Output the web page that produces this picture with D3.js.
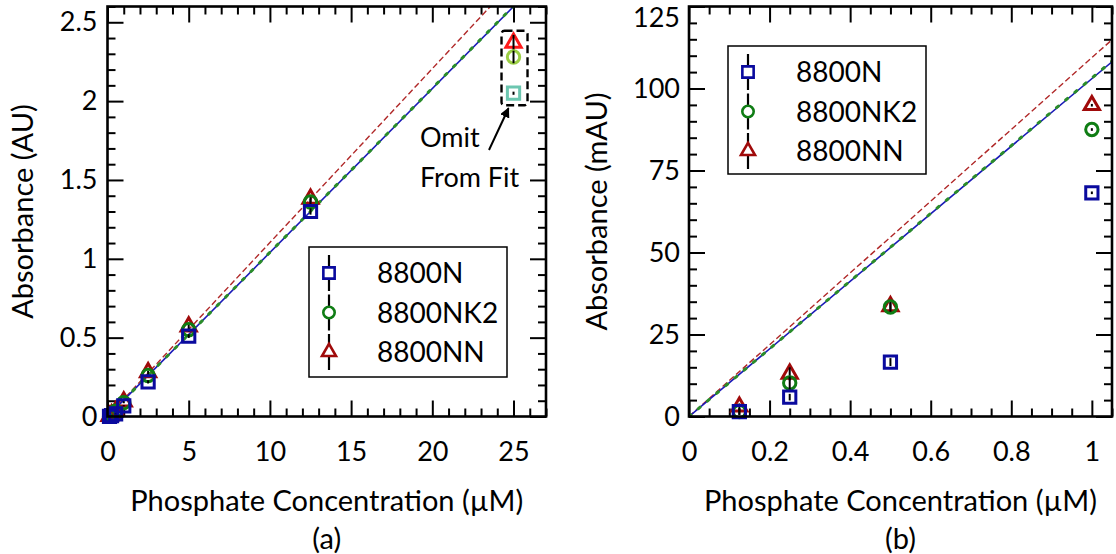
<!DOCTYPE html>
<html><head><meta charset="utf-8">
<script src="https://cdn.jsdelivr.net/npm/d3@7"></script>
<style>
body{margin:0;background:#fff}
svg{display:block}
text{font-family:Lato,"Open Sans",sans-serif;fill:#000}
</style>
</head><body>
<svg id="chart" width="1116" height="554"></svg>
<script>
// ---------- data ----------
const seriesNames = ["8800N", "8800NK2", "8800NN"];

// panel (a): absorbance in AU
const concA = [0.125, 0.25, 0.5, 1, 2.5, 5, 12.5];
const absA_N   = [0.0015, 0.0059, 0.0166, 0.068, 0.22, 0.51, 1.30];
const absA_NK2 = [0.0015, 0.0102, 0.0334, 0.088, 0.26, 0.55, 1.36];
const absA_NN  = [0.0030, 0.0130, 0.0336, 0.095, 0.28, 0.57, 1.38];
const errA_N   = [0.002, 0.002, 0.002, 0.004, 0.010, 0.012, 0.020];
const errA_NK2 = [0.002, 0.002, 0.002, 0.004, 0.010, 0.012, 0.020];
const errA_NN  = [0.002, 0.002, 0.002, 0.004, 0.010, 0.012, 0.020];
// omitted from fit (25 µM)
const omitConc = [25, 25, 25];
const omitAbs  = [2.05, 2.28, 2.37];
const omitErr  = [0.01, 0.04, 0.05];
// fitted slopes (AU per µM)
const fitSlopeA = [0.1040, 0.1041, 0.1103];

// panel (b): absorbance in mAU
const concB = [0.125, 0.25, 0.5, 1];
const absB_N   = [1.5, 5.9, 16.6, 68.2];
const absB_NK2 = [1.5, 10.2, 33.4, 87.5];
const absB_NN  = [3.0, 13.0, 33.6, 94.9];
const errB_N   = [1.0, 1.0, 1.2, 0.4];
const errB_NK2 = [1.0, 2.0, 1.5, 0.4];
const errB_NN  = [1.0, 2.0, 1.0, 0.4];
const fitSlopeB = [103.0, 103.2, 109.4];

// tick labels
const ticksAx = [0, 5, 10, 15, 20, 25];
const ticksAy = [0, 0.5, 1, 1.5, 2, 2.5];
const ticksBx = [0, 0.2, 0.4, 0.6, 0.8, 1];
const ticksBy = [0, 25, 50, 75, 100, 125];

// ---------- styles ----------
const markerColors = ["#0a0a9e", "#0f7d14", "#a00a0a"];
const omitColors   = ["#6cc6b0", "#9ccf45", "#ff1a1a"];
const lineColors   = ["#1a1ab8", "#2a8c2a", "#b02828"];
const lineDash     = [null, "2.5,9.5", "6,3"];
const lineWidth    = [1.6, 3, 1.4];
const symbols = [d3.symbolSquare, d3.symbolCircle, d3.symbolTriangle];
const symSize = [150, 120, 100];

const svg = d3.select("#chart");

function panel(opt) {
  const g = svg.append("g");
  const x = d3.scaleLinear().domain(opt.xDom).range(opt.xRange);
  const y = d3.scaleLinear().domain(opt.yDom).range(opt.yRange);
  const [x0, x1] = opt.xRange, [y0, y1] = opt.yRange;

  const cid = "clip" + opt.id;
  svg.append("clipPath").attr("id", cid).append("rect")
    .attr("x", x0).attr("y", y1).attr("width", x1 - x0).attr("height", y0 - y1);

  const majL = 16, minL = 8;
  function ax(gen, scale, vals, len, fmt, pad, tr) {
    const a = gen(scale).tickValues(vals).tickSizeInner(-len).tickSizeOuter(0).tickPadding(pad);
    a.tickFormat(fmt ? fmt : () => "");
    const s = g.append("g").attr("transform", tr).call(a);
    s.select(".domain").remove();
    s.selectAll("line").attr("stroke", "#000").attr("stroke-width", 2);
    s.selectAll("text").style("font-size", "27px").style("font-family", "Lato");
    return s;
  }
  const minorX = d3.range(opt.xDom[0], opt.xDom[1] + 1e-9, opt.xMinor).filter(v => !opt.xTicks.some(t => Math.abs(t - v) < 1e-9));
  const minorY = d3.range(opt.yDom[0], opt.yDom[1] + 1e-9, opt.yMinor).filter(v => !opt.yTicks.some(t => Math.abs(t - v) < 1e-9));
  const fx = d => String(d), fy = d => String(d);
  ax(d3.axisBottom, x, opt.xTicks, majL, fx, 25, `translate(0,${y0})`);
  ax(d3.axisBottom, x, minorX, minL, null, 0, `translate(0,${y0})`);
  ax(d3.axisTop, x, opt.xTicks, majL, null, 0, `translate(0,${y1})`);
  ax(d3.axisTop, x, minorX, minL, null, 0, `translate(0,${y1})`);
  const ly = ax(d3.axisLeft, y, opt.yTicks, majL, fy, opt.yPad, `translate(${x0},0)`);
  // keep a label sitting on the top edge inside the picture
  ly.selectAll("text").filter(d => y(d) < 14).attr("y", d => 18 - y(d));
  ax(d3.axisLeft, y, minorY, minL, null, 0, `translate(${x0},0)`);
  ax(d3.axisRight, y, opt.yTicks, majL, null, 0, `translate(${x1},0)`);
  ax(d3.axisRight, y, minorY, minL, null, 0, `translate(${x1},0)`);

  // fit lines (red dashed, blue solid, green dotted on top)
  const lg = g.append("g").attr("clip-path", `url(#${cid})`);
  [2, 0, 1].forEach(i => {
    const m = opt.slopes[i];
    const xe = opt.xDom[1];
    lg.append("line")
      .attr("x1", x(0)).attr("y1", y(0)).attr("x2", x(xe)).attr("y2", y(m * xe))
      .attr("stroke", lineColors[i]).attr("stroke-width", lineWidth[i])
      .attr("stroke-dasharray", lineDash[i])
      .attr("stroke-linecap", i === 1 ? "round" : "butt");
  });

  // markers (drawn NN, NK2, N)
  [2, 1, 0].forEach(i => {
    const vals = opt.vals[i], errs = opt.errs[i];
    const mg = g.append("g");
    opt.conc.forEach((c, k) => {
      mg.append("path")
        .attr("d", d3.symbol(symbols[i], symSize[i])())
        .attr("transform", `translate(${x(c)},${y(vals[k])})`)
        .attr("fill", "none").attr("stroke", markerColors[i]).attr("stroke-width", 3);
      mg.append("line")
        .attr("x1", x(c)).attr("x2", x(c))
        .attr("y1", y(vals[k] - errs[k])).attr("y2", y(vals[k] + errs[k]))
        .attr("stroke", "#000").attr("stroke-width", 2);
    });
  });

  // frame
  g.append("rect").attr("x", x0).attr("y", y1).attr("width", x1 - x0).attr("height", y0 - y1)
    .attr("fill", "none").attr("stroke", "#000").attr("stroke-width", 2.6);

  // titles
  const cx = (x0 + x1) / 2;
  g.append("text").attr("x", cx).attr("y", 511).attr("text-anchor", "middle")
    .style("font-size", "29px").text("Phosphate Concentration (µM)");
  g.append("text").attr("x", cx).attr("y", 549).attr("text-anchor", "middle")
    .style("font-size", "29px").text(opt.tag);
  g.append("text").attr("transform", `translate(${opt.yTitleX},${(y0 + y1) / 2}) rotate(-90)`)
    .attr("text-anchor", "middle").style("font-size", "29px").text(opt.yTitle);

  // legend
  const L = opt.legend;
  const leg = g.append("g");
  leg.append("rect").attr("x", L.x).attr("y", L.y).attr("width", L.w).attr("height", L.h)
    .attr("fill", "#fff").attr("stroke", "#000").attr("stroke-width", 1.5);
  seriesNames.forEach((name, i) => {
    const cy = L.y + 26 + i * 39.5, mx = L.x + 20;
    leg.append("line").attr("x1", mx).attr("x2", mx).attr("y1", cy - 18).attr("y2", cy + 18)
      .attr("stroke", "#000").attr("stroke-width", 2.2);
    leg.append("path").attr("d", d3.symbol(symbols[i], symSize[i] * 0.85)())
      .attr("transform", `translate(${mx},${cy})`)
      .attr("fill", "#fff").attr("stroke", markerColors[i]).attr("stroke-width", 2.6);
    leg.append("text").attr("x", L.x + 68).attr("y", cy + 10).style("font-size", "28px").text(name);
  });
  return { g, x, y };
}

const A = panel({
  id: "a", xDom: [0, 27], yDom: [0, 2.6], xRange: [107.5, 546], yRange: [416.5, 6.5],
  xTicks: ticksAx, yTicks: ticksAy, xMinor: 1, yMinor: 0.1, yPad: 10,
  conc: concA, vals: [absA_N, absA_NK2, absA_NN], errs: [errA_N, errA_NK2, errA_NN],
  slopes: fitSlopeA, tag: "(a)", yTitle: "Absorbance (AU)", yTitleX: 33,
  legend: { x: 309, y: 247, w: 198, h: 130 }
});
const B = panel({
  id: "b", xDom: [0, 1.05], yDom: [0, 125], xRange: [689, 1112], yRange: [416.5, 6.5],
  xTicks: ticksBx, yTicks: ticksBy, xMinor: 0.05, yMinor: 5, yPad: 9,
  conc: concB, vals: [absB_N, absB_NK2, absB_NN], errs: [errB_N, errB_NK2, errB_NN],
  slopes: fitSlopeB, tag: "(b)", yTitle: "Absorbance (mAU)", yTitleX: 607,
  legend: { x: 728, y: 46, w: 198, h: 128 }
});

// omitted points in panel (a)
[2, 1, 0].forEach(i => {
  const c = omitConc[i];
  A.g.append("path").attr("d", d3.symbol(symbols[i], symSize[i])())
    .attr("transform", `translate(${A.x(c)},${A.y(omitAbs[i])})`)
    .attr("fill", "none").attr("stroke", omitColors[i]).attr("stroke-width", 3);
  A.g.append("line").attr("x1", A.x(c)).attr("x2", A.x(c))
    .attr("y1", A.y(omitAbs[i] - omitErr[i])).attr("y2", A.y(omitAbs[i] + omitErr[i]))
    .attr("stroke", "#000").attr("stroke-width", 2);
});
const bx0 = A.x(25) - 12, bx1 = A.x(25) + 14;
const by0 = A.y(d3.max(omitAbs)) - 12, by1 = A.y(d3.min(omitAbs)) + 12;
A.g.append("rect").attr("x", bx0).attr("y", by0).attr("width", bx1 - bx0).attr("height", by1 - by0)
  .attr("rx", 3).attr("fill", "none").attr("stroke", "#000").attr("stroke-width", 2.4)
  .attr("stroke-dasharray", "8,4");
svg.append("defs").append("marker").attr("id", "arr").attr("viewBox", "0 0 10 10")
  .attr("refX", 9).attr("refY", 5).attr("markerWidth", 5).attr("markerHeight", 5).attr("orient", "auto")
  .append("path").attr("d", "M0,0 L10,5 L0,10 Z").attr("fill", "#000");
A.g.append("line").attr("x1", 489).attr("y1", 150).attr("x2", (bx0 + bx1) / 2 - 6).attr("y2", by1 + 3)
  .attr("stroke", "#000").attr("stroke-width", 2).attr("marker-end", "url(#arr)");
A.g.append("text").attr("x", 420).attr("y", 147).style("font-size", "27px").text("Omit");
A.g.append("text").attr("x", 420).attr("y", 187).style("font-size", "27px").text("From Fit");
</script>
</body></html>
